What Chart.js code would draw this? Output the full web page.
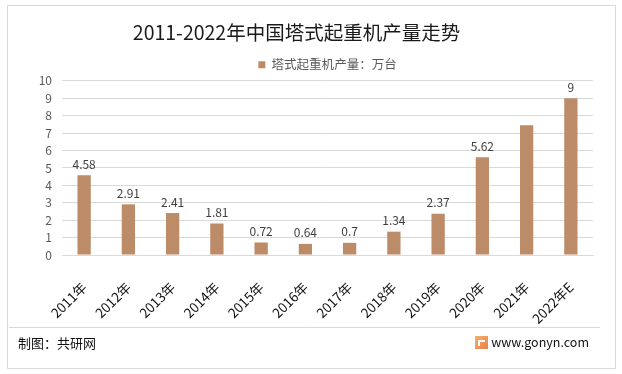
<!DOCTYPE html>
<html>
<head>
<meta charset="utf-8">
<script src="https://cdn.jsdelivr.net/npm/chart.js@4"></script>
<style>
  html, body { margin: 0; padding: 0; background: #fff; }
  #wrap { width: 622px; height: 374px; }
</style>
</head>
<body>
<div id="wrap"><canvas id="towerChart" width="622" height="374"></canvas></div>
<script>
// Data
const years = ['2011年', '2012年', '2013年', '2014年', '2015年', '2016年', '2017年', '2018年', '2019年', '2020年', '2021年', '2022年E'];
const output = [4.58, 2.91, 2.41, 1.81, 0.72, 0.64, 0.7, 1.34, 2.37, 5.62, 7.45, 9];
// 2021 has no value label in the original
const valueLabels = ['4.58', '2.91', '2.41', '1.81', '0.72', '0.64', '0.7', '1.34', '2.37', '5.62', '', '9'];
const yTicks = [0, 1, 2, 3, 4, 5, 6, 7, 8, 9, 10];

const FONT = '"Noto Sans CJK SC", "Noto Sans", sans-serif';

// Draws value labels above the bars
const barLabels = {
    id: 'barLabels',
    afterDatasetsDraw(chart) {
        const ctx = chart.ctx;
        const meta = chart.getDatasetMeta(0);
        ctx.save();
        ctx.font = '12px ' + FONT;
        ctx.fillStyle = '#404040';
        ctx.textAlign = 'center';
        ctx.textBaseline = 'bottom';
        meta.data.forEach((bar, i) => {
            if (valueLabels[i]) ctx.fillText(valueLabels[i], bar.x, bar.y - 5);
        });
        ctx.restore();
    }
};

// Frame and footer (source line)
const frame = {
    id: 'frame',
    afterDraw(chart) {
        const ctx = chart.ctx;
        ctx.save();
        ctx.strokeStyle = '#d9d9d9';
        ctx.lineWidth = 1;
        ctx.strokeRect(7.5, 5.5, 608, 363);
        ctx.beginPath();
        ctx.moveTo(9, 327.5);
        ctx.lineTo(600, 327.5);
        ctx.stroke();

        ctx.font = '13px ' + FONT;
        ctx.fillStyle = '#111';
        ctx.textBaseline = 'middle';
        ctx.textAlign = 'left';
        ctx.fillText('制图：共研网', 18, 343);
        ctx.font = '12.5px ' + FONT;
        ctx.textAlign = 'right';
        ctx.fillText('www.gonyn.com', 589, 342);

        // small logo square
        const g = ctx.createLinearGradient(475, 336, 488, 349);
        g.addColorStop(0, '#f5b266');
        g.addColorStop(1, '#ea7d50');
        ctx.fillStyle = g;
        ctx.fillRect(475, 336, 13, 13);
        ctx.fillStyle = '#fff';
        ctx.fillRect(478, 340, 7, 2);
        ctx.fillRect(478, 340, 2, 6);
        ctx.restore();
    }
};

document.addEventListener('DOMContentLoaded', function() {
    const ctx = document.getElementById('towerChart').getContext('2d');
    new Chart(ctx, {
        type: 'bar',
        data: {
            labels: years,
            datasets: [{
                label: '塔式起重机产量：万台',
                data: output,
                backgroundColor: '#bc8b68',
                borderWidth: 0,
                categoryPercentage: 1,
                barPercentage: 0.3
            }]
        },
        options: {
            responsive: false,
            animation: false,
            devicePixelRatio: 1,
            layout: { padding: { left: 0, right: 29, top: 0, bottom: 0 } },
            plugins: {
                title: {
                    display: true,
                    text: '2011-2022年中国塔式起重机产量走势',
                    color: '#1a1a1a',
                    font: { family: FONT, size: 19.5, weight: 'normal' },
                    padding: { top: 21, bottom: 4 }
                },
                legend: {
                    display: true,
                    fullSize: false,
                    labels: {
                        color: '#595959',
                        font: { family: FONT, size: 12.5 },
                        boxWidth: 7,
                        boxHeight: 7,
                        padding: 10
                    }
                },
                tooltip: { enabled: false }
            },
            scales: {
                x: {
                    grid: { display: false },
                    border: { color: '#d9d9d9' },
                    ticks: {
                        color: '#111',
                        font: { family: FONT, size: 13.5 },
                        minRotation: 45,
                        maxRotation: 45,
                        autoSkip: false,
                        padding: 16
                    },
                    afterFit(scale) { scale.height = 119; }
                },
                y: {
                    min: 0,
                    max: 10,
                    afterBuildTicks(scale) { scale.ticks = yTicks.map(v => ({ value: v })); },
                    grid: { color: '#d9d9d9', drawTicks: false },
                    border: { display: false },
                    ticks: {
                        color: '#595959',
                        font: { family: FONT, size: 12 },
                        padding: 10,
                        stepSize: 1,
                        autoSkip: false
                    },
                    afterFit(scale) { scale.width = 62; }
                }
            }
        },
        plugins: [barLabels, frame]
    });
});
</script>
</body>
</html>
